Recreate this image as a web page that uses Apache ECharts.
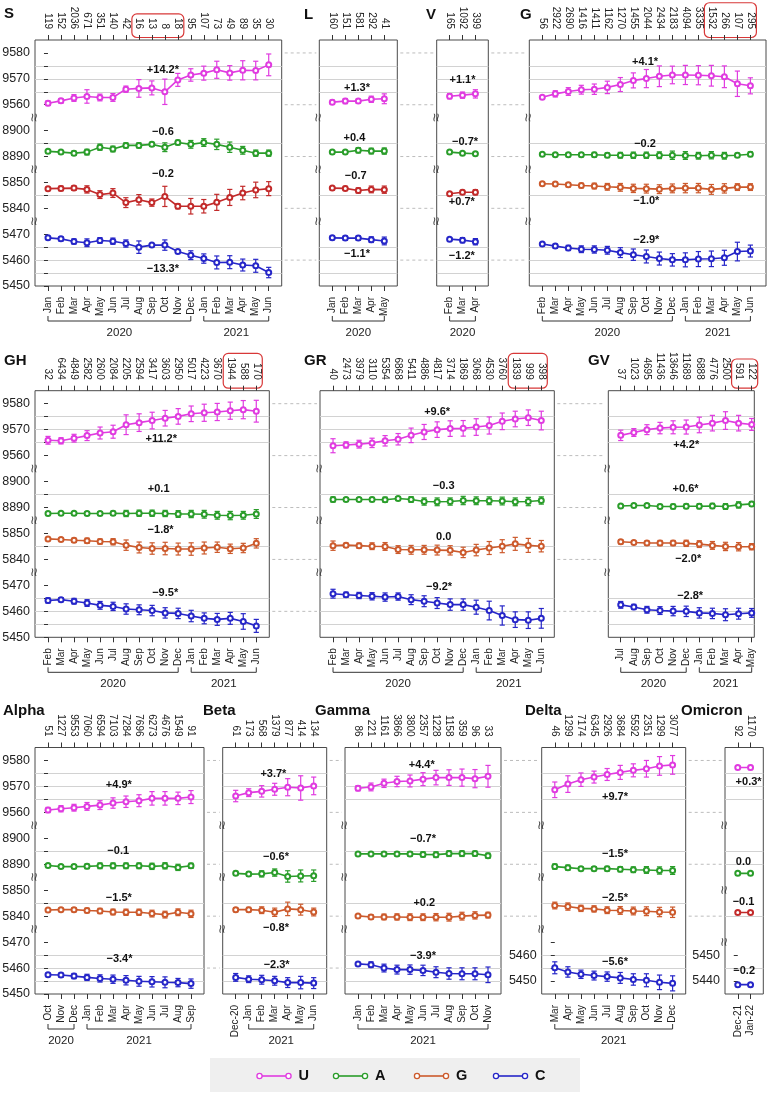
<!DOCTYPE html>
<html><head><meta charset="utf-8">
<script src="https://cdn.jsdelivr.net/npm/echarts@6/dist/echarts.min.js"></script>
<style>html,body{margin:0;padding:0;background:#fff}#c{width:767px;height:1093px}</style>
</head><body><div id="c"></div>
<script>
// ================= DATA =================
const M20 = ['Jan','Feb','Mar','Apr','May','Jun','Jul','Aug','Sep','Oct','Nov','Dec'];
const S_months = M20.concat(['Jan','Feb','Mar','Apr','May','Jun']);
const S_counts = [119,152,2036,671,351,140,42,16,13,8,18,95,107,73,49,89,35,30];
const S_U  = [9560.6,9561.5,9562.6,9563.2,9562.8,9562.8,9566.0,9566.3,9566.5,9565.0,9569.6,9571.5,9572.2,9573.5,9572.3,9573.3,9573.2,9575.4];
const S_Ue = [0.9,0.9,1.3,2.6,1.3,1.5,1.2,3.4,2.7,4.9,2.5,2.4,2.7,3.3,2.8,3.7,3.6,4.2];
const S_A  = [8892.0,8891.7,8891.3,8891.7,8893.6,8892.9,8894.3,8894.3,8894.7,8893.6,8895.4,8894.7,8895.4,8894.7,8893.6,8892.4,8891.3,8891.3];
const S_Ae = [0.4,0.6,0.8,1.1,1.2,1.1,1.0,1.0,0.8,1.7,0.9,1.5,1.5,2.0,2.0,1.5,1.2,1.2];
const S_G  = [5847.6,5847.7,5847.8,5847.3,5845.3,5845.9,5842.2,5843.3,5842.2,5844.6,5840.8,5840.8,5840.8,5842.3,5844.2,5845.9,5847.1,5847.6];
const S_Ge = [0.5,0.9,0.9,1.4,1.5,1.7,1.9,2.0,1.4,3.9,1.0,3.0,2.6,3.1,3.1,2.6,3.0,2.7];
const S_C  = [5468.6,5468.2,5467.2,5466.7,5467.6,5467.3,5466.4,5465.0,5465.8,5465.8,5463.3,5461.9,5460.6,5459.1,5459.2,5458.1,5457.8,5455.2];
const S_Ce = [0.6,0.8,1.0,1.5,1.1,1.2,1.4,2.4,0.6,2.0,0.4,1.7,1.8,2.5,2.5,2.3,2.5,2.0];
const S_notes = ['+14.2*','\u22120.6','\u22120.2','\u221213.3*'];

const L_months = ['Jan','Feb','Mar','Apr','May'];
const L_counts = [160,151,581,292,41];
const L_U = [9561.0,9561.4,9561.4,9562.1,9562.3], L_Ue = [0.8,1.0,0.8,1.2,1.9];
const L_A = [8891.7,8891.7,8892.4,8892.1,8892.1], L_Ae = [0.3,0.3,1.0,1.1,1.2];
const L_G = [5847.8,5847.7,5846.9,5847.3,5847.2], L_Ge = [0.6,0.8,1.0,1.3,1.4];
const L_C = [5468.6,5468.5,5468.5,5467.9,5467.4], L_Ce = [0.7,0.8,0.8,1.1,1.5];
const L_notes = ['+1.3*','+0.4','\u22120.7','\u22121.1*'];

const V_months = ['Feb','Mar','Apr'];
const V_counts = [165,1092,399];
const V_U = [9563.3,9563.7,9564.2], V_Ue = [1.0,1.2,1.6];
const V_A = [8891.7,8891.3,8891.1], V_Ae = [0.3,0.4,0.6];
const V_G = [5845.6,5846.2,5846.2], V_Ge = [0.4,0.8,1.0];
const V_C = [5468.1,5467.7,5467.1], V_Ce = [0.6,1.0,1.2];
const V_notes = ['+1.1*','\u22120.7*','+0.7*','\u22121.2*'];

const FebJun = ['Feb','Mar','Apr','May','Jun','Jul','Aug','Sep','Oct','Nov','Dec','Jan','Feb','Mar','Apr','May','Jun'];
const G_months = FebJun;
const G_counts = [56,2922,2690,1416,1411,1162,1270,1455,2044,2434,2183,4094,3335,1532,266,107,295];
const G_U  = [9562.9,9564.2,9565.1,9565.8,9566.0,9566.7,9567.8,9569.4,9570.1,9571.0,9571.5,9571.5,9571.4,9571.2,9570.8,9568.1,9567.3];
const G_Ue = [0.6,1.2,1.5,1.7,2.0,2.4,2.7,2.9,3.5,4.0,3.4,3.7,3.7,4.0,4.2,4.9,3.1];
const G_A  = [8890.9,8890.7,8890.7,8890.7,8890.7,8890.5,8890.5,8890.5,8890.5,8890.5,8890.5,8890.4,8890.3,8890.5,8890.3,8890.5,8890.9];
const G_Ae = [0.5,0.6,0.7,0.8,0.9,0.9,1.1,1.2,1.2,1.3,1.6,1.5,1.3,1.4,1.3,0.8,0.9];
const G_G  = [5849.5,5849.4,5849.1,5848.8,5848.6,5848.3,5848.1,5847.7,5847.6,5847.4,5847.7,5847.8,5847.8,5847.3,5847.7,5848.2,5848.2];
const G_Ge = [0.6,0.7,0.8,0.9,1.1,1.3,1.5,1.6,1.7,1.7,1.7,1.8,1.8,1.9,1.8,1.3,1.3];
const G_C  = [5466.2,5465.4,5464.7,5464.2,5464.1,5463.8,5462.9,5462.1,5461.4,5460.6,5460.1,5460.1,5460.4,5460.5,5460.9,5463.3,5463.5];
const G_Ce = [0.5,0.8,1.0,1.3,1.4,1.5,1.9,2.2,2.5,2.5,2.4,2.7,2.9,3.0,2.9,3.6,2.3];
const G_notes = ['+4.1*','\u22120.2','\u22121.0*','\u22122.9*'];

const GH_months = FebJun;
const GH_counts = [32,6434,4849,2582,2600,2084,2205,2594,3417,3603,2950,5017,4223,3670,1944,588,170];
const GH_U  = [9565.9,9565.7,9566.7,9567.7,9568.7,9569.2,9571.9,9572.7,9573.5,9574.4,9575.1,9576.1,9576.5,9576.8,9577.3,9577.7,9577.1];
const GH_Ue = [1.5,1.2,1.5,1.9,2.3,2.5,3.8,3.4,3.2,3.0,3.0,3.0,3.3,3.3,3.3,3.5,4.2];
const GH_A  = [8887.7,8887.8,8887.8,8887.7,8887.7,8887.8,8887.7,8887.8,8887.8,8887.7,8887.5,8887.5,8887.4,8887.0,8886.9,8887.0,8887.5];
const GH_Ae = [0.3,0.3,0.5,0.7,0.7,0.8,1.2,1.2,1.2,1.2,1.3,1.4,1.5,1.5,1.6,1.5,1.7];
const GH_G  = [5847.9,5847.7,5847.4,5847.2,5846.9,5846.8,5845.5,5844.6,5844.2,5844.2,5844.0,5844.0,5844.4,5844.7,5844.1,5844.4,5846.2];
const GH_Ge = [0.6,0.5,0.8,1.0,1.0,1.2,2.0,2.1,2.2,2.4,2.3,2.4,2.3,2.0,1.8,1.8,1.8];
const GH_C  = [5464.2,5464.5,5463.9,5463.2,5462.3,5461.9,5460.9,5460.6,5460.3,5459.4,5459.2,5458.2,5457.3,5456.9,5457.3,5456.1,5454.4];
const GH_Ce = [1.0,0.8,1.1,1.3,1.5,1.6,2.0,1.9,2.0,2.0,2.0,2.2,2.1,2.3,2.3,3.0,2.5];
const GH_notes = ['+11.2*','+0.1','\u22121.8*','\u22129.5*'];

const GR_months = FebJun;
const GR_counts = [40,2473,3979,3110,5354,6868,5411,4886,4817,3714,1869,3068,4530,3760,1839,999,398];
const GR_U  = [9563.8,9564.1,9564.4,9564.9,9565.7,9566.3,9567.8,9569.1,9570.0,9570.4,9570.5,9571.0,9571.6,9573.2,9574.1,9574.6,9573.5];
const GR_Ue = [2.7,1.2,1.5,1.8,2.0,2.2,2.8,2.9,3.0,3.0,3.0,3.2,3.3,3.2,3.0,3.0,3.6];
const GR_A  = [8893.1,8893.1,8893.1,8893.1,8893.0,8893.5,8893.1,8892.3,8892.2,8892.3,8892.7,8892.6,8892.6,8892.5,8892.2,8892.3,8892.7];
const GR_Ae = [1.0,0.6,0.7,0.8,1.0,0.7,1.1,1.4,1.5,1.4,1.6,1.5,1.5,1.5,1.5,1.6,1.4];
const GR_G  = [5845.3,5845.5,5845.3,5845.1,5845.0,5843.8,5843.7,5843.7,5843.6,5843.5,5842.7,5843.6,5844.4,5845.1,5846.0,5845.4,5845.1];
const GR_Ge = [1.8,0.8,1.0,1.3,1.5,1.5,1.7,1.7,1.9,1.8,2.0,2.2,2.5,2.5,2.5,2.7,2.2];
const GR_C  = [5466.8,5466.4,5466.1,5465.8,5465.5,5465.7,5464.5,5463.9,5463.2,5462.6,5462.6,5461.6,5460.3,5458.4,5456.8,5456.6,5457.3];
const GR_Ce = [1.7,1.0,1.2,1.4,1.6,1.4,1.9,2.1,2.1,2.2,2.2,2.7,3.6,3.7,3.0,3.2,3.8];
const GR_notes = ['+9.6*','\u22120.3','0.0','\u22129.2*'];

const GV_months = ['Jul','Aug','Sep','Oct','Nov','Dec','Jan','Feb','Mar','Apr','May'];
const GV_counts = [37,1023,4695,11436,13646,11689,6888,4776,2500,591,122];
const GV_U  = [9567.8,9568.9,9570.0,9570.6,9570.9,9571.0,9571.8,9572.5,9573.5,9572.5,9572.0];
const GV_Ue = [2.0,1.5,1.9,2.2,2.5,2.7,3.0,3.0,3.4,3.0,2.3];
const GV_A  = [8890.6,8890.8,8890.8,8890.4,8890.4,8890.5,8890.5,8890.6,8890.4,8891.0,8891.4];
const GV_Ae = [0.4,0.4,0.5,0.8,0.9,0.9,1.0,1.0,1.1,1.2,0.9];
const GV_G  = [5846.8,5846.5,5846.3,5846.3,5846.3,5846.2,5845.9,5845.4,5845.0,5844.9,5844.9];
const GV_Ge = [0.8,0.6,0.8,1.0,1.0,1.2,1.3,1.5,1.6,1.6,1.2];
const GV_C  = [5462.5,5461.7,5460.6,5460.3,5460.1,5460.0,5459.4,5459.2,5458.7,5459.1,5459.4];
const GV_Ce = [1.3,1.0,1.3,1.5,1.8,2.0,2.0,2.0,2.3,2.1,1.7];
const GV_notes = ['+4.2*','+0.6*','\u22122.0*','\u22122.8*'];

const Alpha_months = ['Oct','Nov','Dec','Jan','Feb','Mar','Apr','May','Jun','Jul','Aug','Sep'];
const Alpha_counts = [51,1227,9553,7060,6594,7103,7284,7696,6273,4676,1549,91];
const Alpha_U  = [9560.9,9561.4,9561.8,9562.3,9562.8,9563.6,9564.1,9564.5,9565.4,9565.4,9565.4,9565.9];
const Alpha_Ue = [1.0,1.2,1.3,1.5,1.7,2.0,2.2,2.3,2.6,2.6,2.4,2.5];
const Alpha_A  = [8889.5,8889.1,8889.1,8889.2,8889.4,8889.4,8889.4,8889.4,8889.2,8889.4,8888.8,8889.4];
const Alpha_Ae = [0.3,0.6,0.8,0.9,1.1,1.1,1.1,1.1,1.2,1.2,1.2,1.0];
const Alpha_G  = [5842.4,5842.5,5842.5,5842.2,5842.0,5841.6,5841.5,5841.5,5841.0,5840.6,5841.5,5840.9];
const Alpha_Ge = [0.4,0.6,0.8,0.9,1.0,1.1,1.2,1.2,1.3,1.3,1.3,1.4];
const Alpha_C  = [5457.4,5457.3,5456.9,5456.4,5456.0,5455.7,5455.3,5454.9,5454.7,5454.5,5454.4,5454.0];
const Alpha_Ce = [0.6,0.8,1.0,1.2,1.4,1.6,1.8,1.9,2.0,2.1,1.6,1.8];
const Alpha_notes = ['+4.9*','\u22120.1','\u22121.5*','\u22123.4*'];

const Beta_months = ['Dec-20','Jan','Feb','Mar','Apr','May','Jun'];
const Beta_counts = [61,173,568,1379,877,414,134];
const Beta_U = [9566.3,9567.6,9568.1,9568.9,9569.7,9569.4,9570.2], Beta_Ue = [2.2,1.5,2.2,2.3,3.3,4.7,3.4];
const Beta_A = [8886.5,8886.2,8886.3,8886.8,8885.3,8885.5,8885.6], Beta_Ae = [0.8,0.8,1.2,1.4,2.2,2.3,2.2];
const Beta_G = [5842.5,5842.5,5842.3,5841.5,5842.8,5842.5,5841.6], Beta_Ge = [0.8,0.9,1.3,1.6,2.6,2.1,1.5];
const Beta_C = [5456.4,5455.7,5455.5,5455.1,5454.4,5454.4,5454.2], Beta_Ce = [1.5,1.3,1.7,1.7,1.9,2.4,2.1];
const Beta_notes = ['+3.7*','\u22120.6*','\u22120.8*','\u22122.3*'];

const Gamma_months = ['Jan','Feb','Mar','Apr','May','Jun','Jul','Aug','Sep','Oct','Nov'];
const Gamma_counts = [86,221,1161,3866,3800,2357,1228,1158,359,96,33];
const Gamma_U = [9569.3,9569.8,9571.2,9571.9,9572.1,9572.8,9573.4,9573.4,9573.4,9573.0,9573.9], Gamma_Ue = [1.0,1.5,1.6,2.0,2.3,2.5,2.8,3.0,3.3,3.5,4.2];
const Gamma_A = [8894.0,8894.0,8894.0,8894.0,8894.0,8893.8,8893.7,8894.1,8894.1,8894.1,8893.3], Gamma_Ae = [0.4,0.6,0.7,0.8,0.9,1.0,1.1,1.1,1.1,1.0,1.0];
const Gamma_G = [5840.1,5839.7,5839.7,5839.7,5839.6,5839.6,5839.6,5839.6,5840.0,5840.3,5840.4], Gamma_Ge = [0.4,0.9,1.1,1.2,1.3,1.3,1.4,1.5,1.5,1.4,1.1];
const Gamma_C = [5461.6,5461.3,5460.0,5459.4,5459.4,5459.1,5458.4,5457.9,5457.8,5457.8,5457.4], Gamma_Ce = [0.6,1.1,1.5,1.7,1.8,2.0,2.1,2.2,2.3,2.3,3.0];
const Gamma_notes = ['+4.4*','\u22120.7*','+0.2','\u22123.9*'];

const Delta_months = ['Mar','Apr','May','Jun','Jul','Aug','Sep','Oct','Nov','Dec'];
const Delta_counts = [46,1299,7174,6345,2926,3684,5592,2351,1299,3077];
const Delta_U = [9568.7,9570.9,9572.6,9573.6,9574.6,9575.4,9576.2,9576.8,9577.9,9578.3], Delta_Ue = [3.0,3.2,2.6,2.3,2.3,2.7,2.5,3.2,3.6,3.6];
const Delta_A = [8889.1,8888.7,8888.3,8888.3,8888.3,8888.1,8887.9,8887.8,8887.6,8887.6], Delta_Ae = [1.0,1.0,0.7,0.8,0.9,1.0,1.1,1.3,1.4,1.5];
const Delta_G = [5844.1,5843.7,5843.0,5842.8,5842.3,5842.2,5842.0,5841.9,5841.6,5841.5], Delta_Ge = [1.3,1.4,1.2,1.2,1.3,1.5,1.5,1.7,1.8,2.0];
const Delta_C = [5455.1,5453.5,5452.6,5452.1,5451.7,5451.2,5450.6,5450.3,5449.5,5449.1], Delta_Ce = [2.3,2.0,1.6,1.7,1.8,2.1,2.2,2.5,2.8,2.9];
const Delta_notes = ['+9.7*','\u22121.5*','\u22122.5*','\u22125.6*'];

const Omicron_months = ['Dec-21','Jan-22'];
const Omicron_counts = [92,1170];
const Omicron_U = [9577.3,9577.3], Omicron_Ue = [0.5,0.8];
const Omicron_A = [8886.5,8886.5], Omicron_Ae = [0.2,0.3];
const Omicron_G = [5841.4,5841.4], Omicron_Ge = [0.3,0.3];
const Omicron_C = [5438.6,5438.6], Omicron_Ce = [0.4,0.6];
const Omicron_notes = ['+0.3*','0.0','\u22120.1','\u22120.2'];

const legendNames = ['U','A','G','C'];

// ================= LAYOUT / STYLE =================
const MAG='#e03be0', GRN='#2a9d2a', RED='#c22a2a', ORG='#cc5a2c', BLU='#2626c8';
const FONT='"Liberation Sans", Arial, Helvetica, sans-serif';
const NARROW='"Liberation Sans Narrow", "Liberation Sans", Arial, sans-serif';
const TOP_TICK=5, TOP_MARGIN=11, TOP_FS=10;
const STD=[[9555,9585],[8885,8905],[5835,5855],[5450,5475]];
const DELTA_B=[[9555,9585],[8885,8905],[5835,5855],[5445,5470]];
const OMI_B=[[9555,9585],[8880,8905],[5830,5850],[5435,5455]];
const rows=[{top:40,bottom:286},{top:390.7,bottom:637.3},{top:747.5,bottom:994}];

const panels=[
 {name:'S',row:0,left:35,right:281.7,xr:[-1,18],title:[4,14],months:S_months,counts:S_counts,
  data:[[S_U,S_Ue],[S_A,S_Ae],[S_G,S_Ge],[S_C,S_Ce]],notes:S_notes,
  noteAt:[[8.85,9573.5],[8.85,8899.4],[8.85,5853.2],[8.85,5456.7]],
  years:[['2020',0,11],['2021',12,17]],box:[7,10],gCol:RED,bands:STD,yLab:[0,1,2,3]},
 {name:'L',row:0,left:319.3,right:397.3,xr:[-1,5],title:[304,15],months:L_months,counts:L_counts,
  data:[[L_U,L_Ue],[L_A,L_Ae],[L_G,L_Ge],[L_C,L_Ce]],notes:L_notes,
  noteAt:[[1.9,9566.3],[1.7,8897.2],[1.8,5852.3],[1.9,5462.5]],
  years:[['2020',0,4]],gCol:RED,bands:STD,yLab:[]},
 {name:'V',row:0,left:436.7,right:488.3,xr:[-1,3],title:[426,15],months:V_months,counts:V_counts,
  data:[[V_U,V_Ue],[V_A,V_Ae],[V_G,V_Ge],[V_C,V_Ce]],notes:V_notes,
  noteAt:[[1.0,9569.6],[1.2,8895.7],[0.95,5842.5],[0.95,5461.5]],
  years:[['2020',0,2]],gCol:RED,bands:STD,yLab:[]},
 {name:'G',row:0,left:529.3,right:766,xr:[-1,17.2],title:[520,15],months:G_months,counts:G_counts,
  data:[[G_U,G_Ue],[G_A,G_Ae],[G_G,G_Ge],[G_C,G_Ce]],notes:G_notes,
  noteAt:[[7.9,9576.7],[7.9,8894.9],[8.0,5842.7],[8.0,5467.7]],
  years:[['2020',0,10],['2021',11,16]],box:[13,16],gCol:ORG,bands:STD,yLab:[]},
 {name:'GH',row:1,left:35,right:269.3,xr:[-1,17],title:[4,361],months:GH_months,counts:GH_counts,
  data:[[GH_U,GH_Ue],[GH_A,GH_Ae],[GH_G,GH_Ge],[GH_C,GH_Ce]],notes:GH_notes,
  noteAt:[[8.7,9566.5],[8.5,8897.1],[8.65,5851.5],[9.0,5467.2]],
  years:[['2020',0,10],['2021',11,16]],box:[14,16],gCol:ORG,bands:STD,yLab:[0,1,2,3]},
 {name:'GR',row:1,left:320,right:554.3,xr:[-1,17],title:[304,361],months:GR_months,counts:GR_counts,
  data:[[GR_U,GR_Ue],[GR_A,GR_Ae],[GR_G,GR_Ge],[GR_C,GR_Ce]],notes:GR_notes,
  noteAt:[[8.0,9576.7],[8.5,8898.3],[8.5,5848.5],[8.15,5469.5]],
  years:[['2020',0,10],['2021',11,16]],box:[14,16],gCol:ORG,bands:STD,yLab:[]},
 {name:'GV',row:1,left:608.3,right:754.3,xr:[-0.95,10.2],title:[588,361],months:GV_months,counts:GV_counts,
  data:[[GV_U,GV_Ue],[GV_A,GV_Ae],[GV_G,GV_Ge],[GV_C,GV_Ce]],notes:GV_notes,
  noteAt:[[5.0,9564.0],[4.95,8897.1],[5.15,5840.0],[5.3,5465.9]],
  years:[['2020',0,5],['2021',6,10]],box:[9,10],gCol:ORG,bands:STD,yLab:[]},
 {name:'Alpha',row:2,left:35,right:204,xr:[-1,12],title:[3,711],months:Alpha_months,counts:Alpha_counts,
  data:[[Alpha_U,Alpha_Ue],[Alpha_A,Alpha_Ae],[Alpha_G,Alpha_Ge],[Alpha_C,Alpha_Ce]],notes:Alpha_notes,
  noteAt:[[5.45,9570.7],[5.4,8895.1],[5.45,5846.9],[5.5,5463.5]],
  years:[['2020',0,2],['2021',3,11]],gCol:ORG,bands:STD,yLab:[0,1,2,3]},
 {name:'Beta',row:2,left:222.7,right:326.7,xr:[-1,7],title:[203,711],months:Beta_months,counts:Beta_counts,
  data:[[Beta_U,Beta_Ue],[Beta_A,Beta_Ae],[Beta_G,Beta_Ge],[Beta_C,Beta_Ce]],notes:Beta_notes,
  noteAt:[[2.9,9574.8],[3.1,8892.9],[3.1,5835.4],[3.15,5461.0]],
  years:[['2021',1,6]],gCol:ORG,bands:STD,yLab:[]},
 {name:'Gamma',row:2,left:345,right:501,xr:[-1,11],title:[315,711],months:Gamma_months,counts:Gamma_counts,
  data:[[Gamma_U,Gamma_Ue],[Gamma_A,Gamma_Ae],[Gamma_G,Gamma_Ge],[Gamma_C,Gamma_Ce]],notes:Gamma_notes,
  noteAt:[[4.9,9578.3],[5.0,8899.6],[5.1,5845.0],[5.0,5464.7]],
  years:[['2021',0,10]],gCol:ORG,bands:STD,yLab:[]},
 {name:'Delta',row:2,left:541.7,right:685.7,xr:[-1,10],title:[525,711],months:Delta_months,counts:Delta_counts,
  data:[[Delta_U,Delta_Ue],[Delta_A,Delta_Ae],[Delta_G,Delta_Ge],[Delta_C,Delta_Ce]],notes:Delta_notes,
  noteAt:[[4.6,9565.8],[4.6,8894.0],[4.6,5846.9],[4.6,5457.5]],
  years:[['2021',0,9]],gCol:ORG,bands:DELTA_B,yLab:[3]},
 {name:'Omicron',row:2,left:725,right:763.3,xr:[-1,2],title:[681,711],months:Omicron_months,counts:Omicron_counts,
  data:[[Omicron_U,Omicron_Ue],[Omicron_A,Omicron_Ae],[Omicron_G,Omicron_Ge],[Omicron_C,Omicron_Ce]],notes:Omicron_notes,
  noteAt:[[0.85,9571.9],[0.45,8891.0],[0.45,5845.6],[0.5,5444.0]],
  years:[],gCol:RED,bands:OMI_B,yLab:[3]}
];

function bandLayout(p){
  const R=rows[p.row];
  const tot=p.bands.reduce((s,b)=>s+b[1]-b[0],0);
  const ppu=(R.bottom-R.top)/tot;
  let off=0;
  return p.bands.map(b=>{const t=R.top+off*ppu; off+=b[1]-b[0]; return {top:t,height:(b[1]-b[0])*ppu,min:b[0],max:b[1]};});
}
function bandTicks(p,k){
  const b=p.bands[k], last=k===p.bands.length-1, out=[];
  for(let v=b[0]; v<=b[1]; v+=5){
    if(v===b[1]) continue;
    if(v===b[0] && !(last && v%10===0)) continue;
    out.push(v);
  }
  return out;
}
function errBar(col){
  return function(params, api){
    const x=api.value(0), v=api.value(1), e=api.value(2);
    const a=api.coord([x,v+e]), b=api.coord([x,v-e]);
    const hw=2.6, st={stroke:col, lineWidth:1.2};
    return {type:'group', children:[
      {type:'line', shape:{x1:a[0],y1:a[1],x2:b[0],y2:b[1]}, style:st},
      {type:'line', shape:{x1:a[0]-hw,y1:a[1],x2:a[0]+hw,y2:a[1]}, style:st},
      {type:'line', shape:{x1:b[0]-hw,y1:b[1],x2:b[0]+hw,y2:b[1]}, style:st}
    ]};
  };
}
function noteRender(txt){
  return function(params, api){
    const c=api.coord([api.value(0), api.value(1)]);
    return {type:'text', x:c[0], y:c[1], style:{text:txt, fill:'#111', fontFamily:FONT, fontWeight:'bold', fontSize:11, align:'center', verticalAlign:'middle'}};
  };
}

const grid=[], xAxis=[], yAxis=[], series=[];
panels.forEach(p=>{
  const R=rows[p.row], W=p.right-p.left, n=p.months.length;
  const idx=[...Array(n).keys()];
  const fg=grid.length;
  grid.push({left:p.left, top:R.top, width:W, height:R.bottom-R.top, show:true, borderColor:'#4a4a4a', borderWidth:1, backgroundColor:'rgba(0,0,0,0)', containLabel:false, outerBoundsMode:'none'});
  p.xb=xAxis.length;
  xAxis.push({gridIndex:fg, type:'value', position:'bottom', min:p.xr[0], max:p.xr[1], interval:1,
    axisLine:{show:false}, splitLine:{show:false},
    axisTick:{show:true, length:5, customValues:idx, lineStyle:{color:'#333', width:1}},
    axisLabel:{show:true, customValues:idx, rotate:90, margin:11, fontSize:10, fontFamily:FONT, color:'#222',
      showMinLabel:true, showMaxLabel:true, formatter:v=>{const s=p.months[Math.round(v)]; return s===undefined?'':s;}}});
  xAxis.push({gridIndex:fg, type:'value', position:'top', min:p.xr[0], max:p.xr[1], interval:1,
    axisLine:{show:false}, splitLine:{show:false},
    axisTick:{show:true, length:TOP_TICK, customValues:idx, lineStyle:{color:'#333', width:1}},
    axisLabel:{show:true, customValues:idx, rotate:90, margin:TOP_MARGIN, fontSize:TOP_FS, fontFamily:NARROW, color:'#222',
      showMinLabel:true, showMaxLabel:true, formatter:v=>{const s=p.counts[Math.round(v)]; return s===undefined?'':String(s);}}});
  yAxis.push({gridIndex:fg, type:'value', min:0, max:1, show:false});
  p.yIdx=[];
  bandLayout(p).forEach((b,k)=>{
    const gi=grid.length;
    grid.push({left:p.left, top:b.top, width:W, height:b.height, show:false, containLabel:false, outerBoundsMode:'none'});
    const xi=xAxis.length;
    xAxis.push({gridIndex:gi, type:'value', min:p.xr[0], max:p.xr[1], show:false});
    const yi=yAxis.length; p.yIdx.push(yi);
    const ticks=bandTicks(p,k), labs=ticks.filter(v=>v%10===0), showY=p.yLab.includes(k);
    yAxis.push({gridIndex:gi, type:'value', min:b.min, max:b.max, interval:5, position:'left',
      axisLine:{show:false},
      axisTick:{show:showY, length:4, customValues:ticks, lineStyle:{color:'#333', width:1}},
      axisLabel:{show:showY, customValues:labs, margin:5, fontSize:12.5, fontFamily:FONT, color:'#222', showMinLabel:true, showMaxLabel:true,
        formatter:v=>String(Math.round(v))},
      splitLine:{show:true, showMinLine:false, showMaxLine:false, lineStyle:{color:'#d2d2d2', width:1}}});
    const col=[MAG,GRN,p.gCol,BLU][k];
    const vals=p.data[k][0], errs=p.data[k][1];
    series.push({type:'custom', name:legendNames[k], xAxisIndex:xi, yAxisIndex:yi, clip:false, z:3, silent:true,
      data:vals.map((v,i)=>[i,v,errs[i]]), renderItem:errBar(col)});
    series.push({type:'line', name:legendNames[k], xAxisIndex:xi, yAxisIndex:yi, clip:false, z:4, silent:true,
      data:vals.map((v,i)=>[i,v]), symbol:'emptyCircle', symbolSize:5, showSymbol:true,
      lineStyle:{color:col, width:1.6}, itemStyle:{color:col, borderColor:col, borderWidth:1.2}});
    series.push({type:'custom', xAxisIndex:xi, yAxisIndex:yi, clip:false, z:5, silent:true,
      data:[[p.noteAt[k][0], p.noteAt[k][1]]], renderItem:noteRender(p.notes[k])});
  });
});

const chart=echarts.init(document.getElementById('c'), null, {renderer:'canvas', width:767, height:1093});
chart.setOption({animation:false, backgroundColor:'#fff', grid, xAxis, yAxis, series});

// ================= ANNOTATION GRAPHICS =================
const ctx=document.createElement('canvas').getContext('2d');
ctx.font=TOP_FS+'px '+NARROW;
const g=[];
function yPix(p,v){
  for(let k=0;k<p.bands.length;k++){ const b=p.bands[k]; if(v>=b[0]&&v<=b[1]) return chart.convertToPixel({yAxisIndex:p.yIdx[k]}, v); }
  return null;
}
panels.forEach(p=>{
  const R=rows[p.row];
  g.push({type:'text', x:p.title[0], y:p.title[1], style:{text:p.name, fontFamily:FONT, fontWeight:'bold', fontSize:15, fill:'#111', verticalAlign:'middle'}});
  bandLayout(p).slice(1).forEach(b=>{
    g.push({type:'text', x:p.left, y:b.top, rotation:Math.PI/2, style:{text:'\u2248', fontFamily:FONT, fontSize:15, fill:'#444', align:'center', verticalAlign:'middle'}});
  });
  const yb=R.bottom+35;
  (p.years||[]).forEach(([yr,a,b])=>{
    const x1=chart.convertToPixel({xAxisIndex:p.xb}, a), x2=chart.convertToPixel({xAxisIndex:p.xb}, b);
    g.push({type:'polyline', shape:{points:[[x1,yb-5],[x1,yb],[x2,yb],[x2,yb-5]]}, style:{stroke:'#333', lineWidth:1, fill:null}});
    g.push({type:'text', x:(x1+x2)/2, y:yb+11.5, style:{text:yr, fontFamily:FONT, fontSize:11.5, fill:'#222', align:'center', verticalAlign:'middle'}});
  });
  if(p.box){
    const [a,b]=p.box;
    const xa=chart.convertToPixel({xAxisIndex:p.xb}, a)-7, xe=chart.convertToPixel({xAxisIndex:p.xb}, b)+6;
    let mw=0; for(let i=a;i<=b;i++) mw=Math.max(mw, ctx.measureText(String(p.counts[i])).width);
    const yt=Math.max(0.5, R.top-TOP_MARGIN-mw-4), ye=R.top-2.5;
    g.push({type:'rect', shape:{x:xa, y:yt, width:xe-xa, height:ye-yt, r:5}, style:{fill:null, stroke:'#d83838', lineWidth:1.2}});
  }
});
// dashed connectors between neighbouring panels
[0,1,2].forEach(r=>{
  const ps=panels.filter(p=>p.row===r);
  for(let i=0;i<ps.length-1;i++){
    const a=ps[i], b=ps[i+1];
    [9580,9560,8890,5840,5460].forEach(v=>{
      const ya=yPix(a,v), yb2=yPix(b,v);
      if(ya!=null && yb2!=null && Math.abs(ya-yb2)<1){
        g.push({type:'line', shape:{x1:a.right+3, y1:ya, x2:b.left-3, y2:ya}, style:{stroke:'#bdbdbd', lineWidth:1, lineDash:[3,3]}});
      }
    });
  }
});
// legend box
g.push({type:'rect', shape:{x:210, y:1058, width:370, height:34}, style:{fill:'#efefef'}});
[[MAG,259.5],[GRN,336],[ORG,417],[BLU,496]].forEach(([col,x],k)=>{
  const y=1076;
  g.push({type:'line', shape:{x1:x, y1:y, x2:x+29, y2:y}, style:{stroke:col, lineWidth:1.6}});
  g.push({type:'circle', shape:{cx:x, cy:y, r:2.6}, style:{stroke:col, fill:'#fff', lineWidth:1.3}});
  g.push({type:'circle', shape:{cx:x+29, cy:y, r:2.6}, style:{stroke:col, fill:'#fff', lineWidth:1.3}});
  g.push({type:'text', x:x+39, y:y, style:{text:legendNames[k], fontFamily:FONT, fontWeight:'bold', fontSize:14.5, fill:'#111', verticalAlign:'middle'}});
});
chart.setOption({graphic:g});
</script></body></html>
